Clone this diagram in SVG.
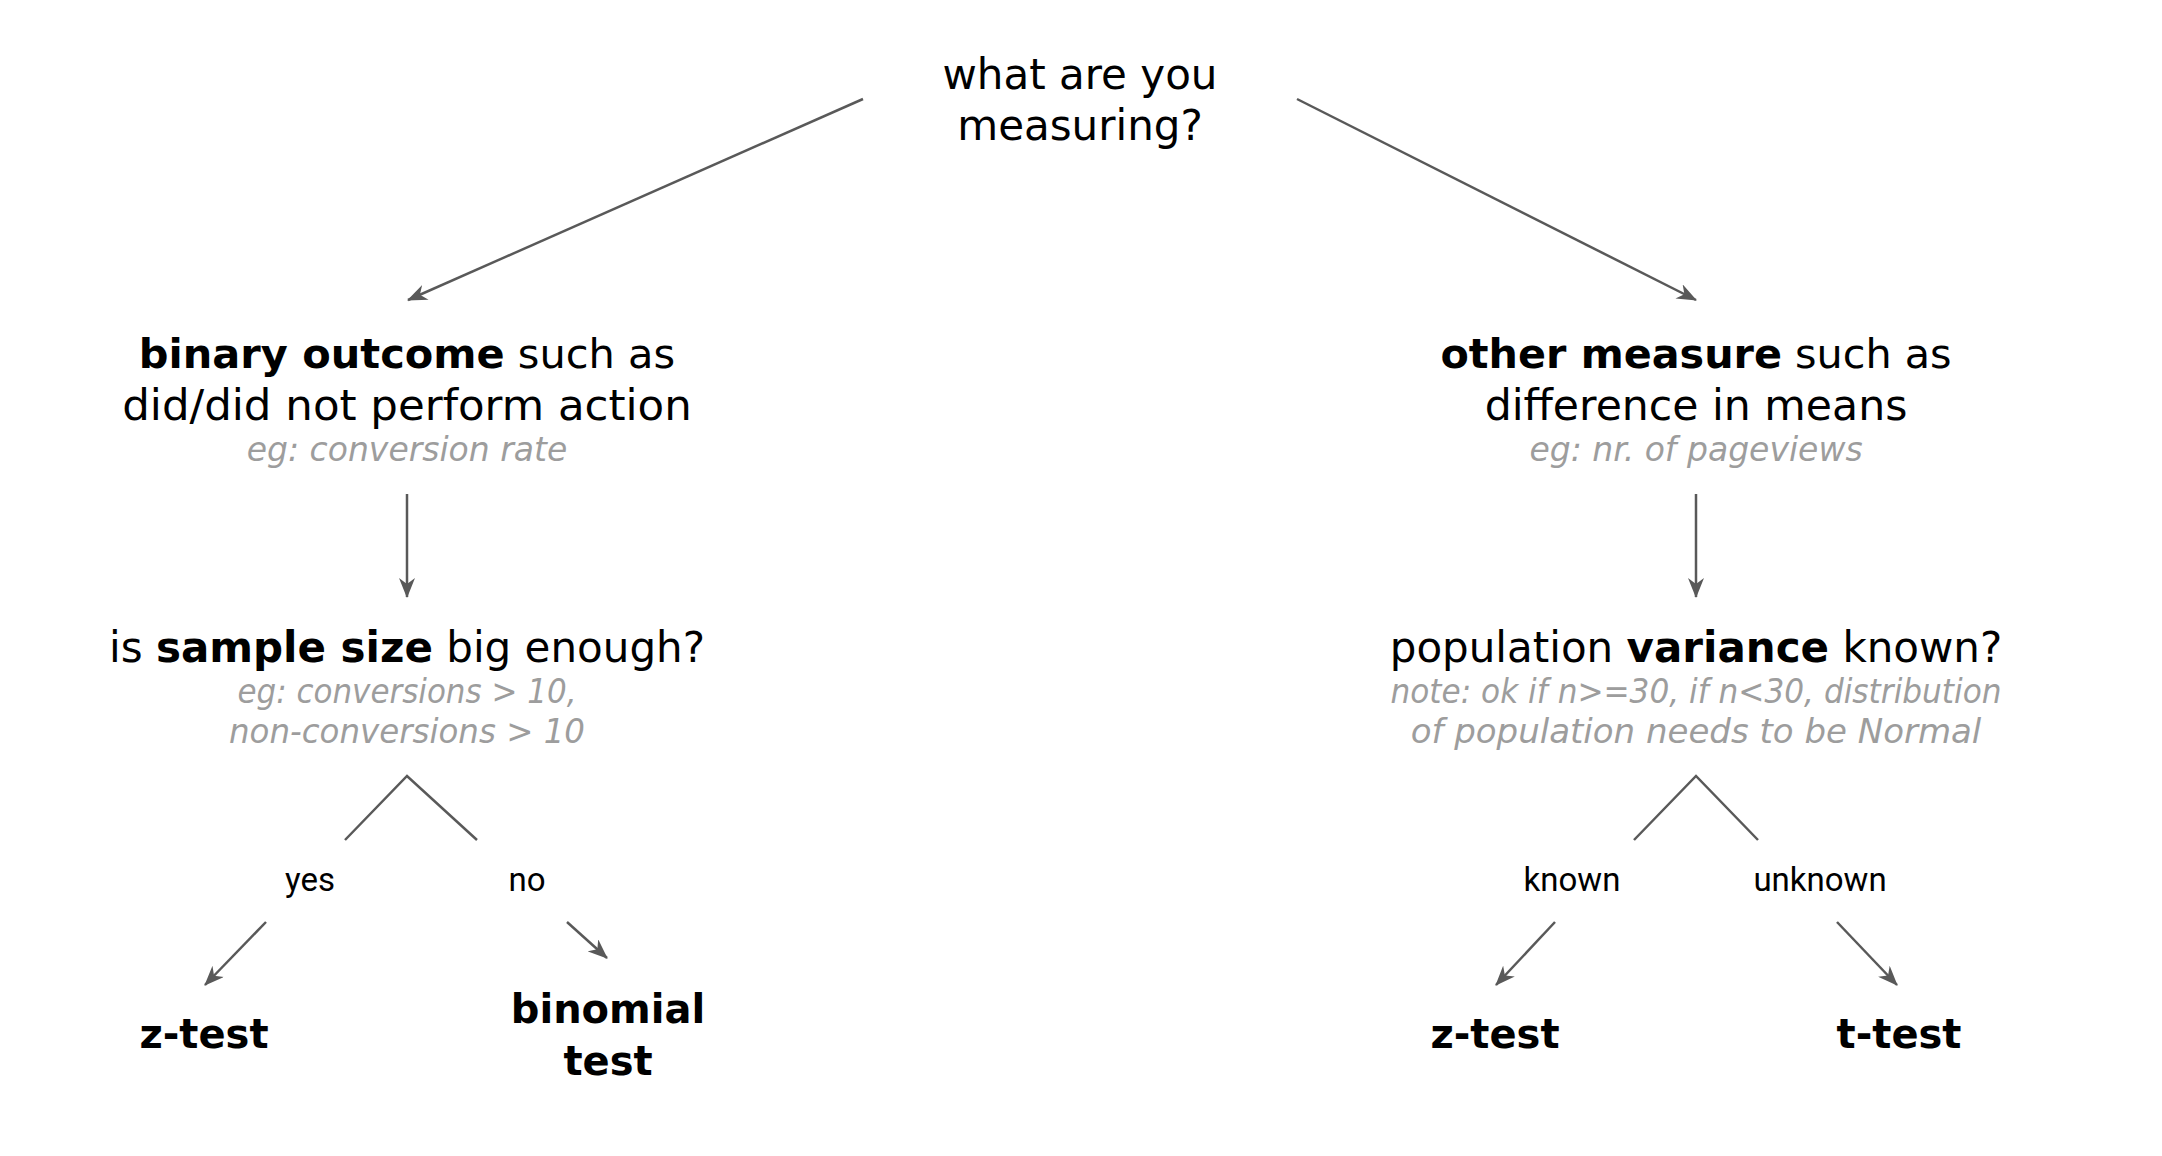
<svg xmlns="http://www.w3.org/2000/svg" width="2162" height="1156" viewBox="0 0 2162 1156">
<style>
text{font-family:"DejaVu Sans","Liberation Sans",sans-serif;text-anchor:middle;fill:#000}
.t{font-size:42px}
.b{font-weight:bold}
.g{font-size:33px;font-style:italic;fill:#9d9d9d}
.l{font-family:Roboto,"Liberation Sans",sans-serif;font-size:33px}
.r{font-size:40px;font-weight:bold}
.c{stroke:#595959;stroke-width:2.5;fill:none}
.a{marker-end:url(#ah)}
</style>
<defs>
<marker id="ah" viewBox="0 0 20 16" refX="19" refY="8" markerWidth="20" markerHeight="16" markerUnits="userSpaceOnUse" orient="auto">
<path d="M0,0 L20,8 L0,16 L6,8 z" fill="#595959"/>
</marker>
</defs>
<rect width="2162" height="1156" fill="#fff"/>
<g id="connectors">
<line class="c a" x1="863" y1="99" x2="408" y2="300"/>
<line class="c a" x1="1297" y1="99" x2="1696" y2="300"/>
<line class="c a" x1="407" y1="494" x2="407" y2="597"/>
<line class="c a" x1="1696" y1="494" x2="1696" y2="597"/>
<polyline class="c" points="345,840 407,776 477,840"/>
<polyline class="c" points="1634,840 1696,776 1758,840"/>
<line class="c a" x1="266" y1="922" x2="205" y2="985"/>
<line class="c a" x1="567" y1="922" x2="607" y2="958"/>
<line class="c a" x1="1555" y1="922" x2="1496" y2="985"/>
<line class="c a" x1="1837" y1="922" x2="1897" y2="985"/>
</g>
<g id="root">
<text class="t" x="1080" y="89">what are you</text>
<text class="t" x="1080" y="140">measuring?</text>
</g>
<g id="binary">
<text class="t" x="407" y="368" style="font-size:41.5px"><tspan class="b">binary outcome</tspan> such as</text>
<text class="t" x="407" y="420" style="font-size:43.5px">did/did not perform action</text>
<text class="g" x="407" y="461">eg: conversion rate</text>
</g>
<g id="other">
<text class="t" x="1696" y="368" style="font-size:41.3px"><tspan class="b">other measure</tspan> such as</text>
<text class="t" x="1696" y="420" style="font-size:42.6px">difference in means</text>
<text class="g" x="1696" y="461">eg: nr. of pageviews</text>
</g>
<g id="sample">
<text class="t" x="407" y="662">is <tspan class="b">sample size</tspan> big enough?</text>
<text class="g" x="407" y="703" textLength="339" lengthAdjust="spacingAndGlyphs">eg: conversions &gt; 10,</text>
<text class="g" x="407" y="743" textLength="356" lengthAdjust="spacingAndGlyphs">non-conversions &gt; 10</text>
</g>
<g id="variance">
<text class="t" x="1696" y="662">population <tspan class="b">variance</tspan> known?</text>
<text class="g" x="1696" y="703" textLength="611" lengthAdjust="spacingAndGlyphs">note: ok if n&gt;=30, if n&lt;30, distribution</text>
<text class="g" x="1696" y="743" style="font-size:34px">of population needs to be Normal</text>
</g>
<g id="label-yes"><text class="l" x="310" y="891">yes</text></g>
<g id="label-no"><text class="l" x="527" y="891">no</text></g>
<g id="label-known"><text class="l" x="1572" y="891">known</text></g>
<g id="label-unknown"><text class="l" x="1820" y="891">unknown</text></g>
<g id="ztest-left"><text class="r" x="204" y="1048">z-test</text></g>
<g id="binomial"><text class="r" x="608" y="1023">binomial</text><text class="r" x="608" y="1075">test</text></g>
<g id="ztest-right"><text class="r" x="1495" y="1048">z-test</text></g>
<g id="ttest"><text class="r" x="1899" y="1048">t-test</text></g>
</svg>
